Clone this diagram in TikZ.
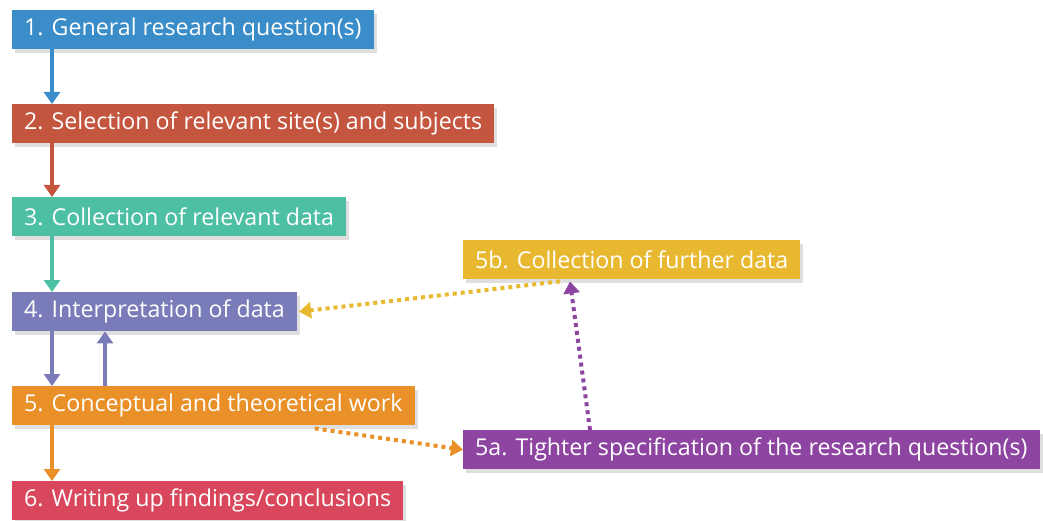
\documentclass[tikz,border=0pt]{standalone}
\usepackage{fontspec}
\setmainfont{Open Sans}
\usetikzlibrary{arrows.meta,shadows}

\definecolor{cblue}{HTML}{3A8DC8}
\definecolor{cbrick}{HTML}{C4553F}
\definecolor{cteal}{HTML}{4DBFA2}
\definecolor{cslate}{HTML}{7A7CB9}
\definecolor{corange}{HTML}{E99128}
\definecolor{crose}{HTML}{D9475C}
\definecolor{cgold}{HTML}{E8B930}
\definecolor{cplum}{HTML}{8E45A2}

\tikzset{
  stagebox/.style={anchor=north west,inner xsep=12pt,inner ysep=0pt,
    minimum height=39pt,text=white,
    font=\fontsize{23.2}{25}\selectfont,
    drop shadow={shadow xshift=3pt,shadow yshift=-4pt,opacity=0.25}},
  flow/.style={line width=4pt,-{Triangle[width=16pt,length=12pt]}},
  loose/.style={line width=4pt,dash pattern=on 4pt off 4pt,
    -{Triangle[width=16pt,length=12pt]}}
}

\begin{document}
\begin{tikzpicture}[x=1pt,y=-1pt]
    \useasboundingbox (0,0) rectangle (1043,521);
    % etapas principales, columna izquierda
    \node[stagebox,fill=cblue] (quest) at (12,10) {1. General research question(s)};
    \node[stagebox,fill=cbrick] (site) at (12,104) {2. Selection of relevant site(s) and subjects};
    \node[stagebox,fill=cteal] (coll) at (12,197) {3. Collection of relevant data};
    \node[stagebox,fill=cslate] (interp) at (12,292) {4. Interpretation of data};
    \node[stagebox,fill=corange] (theory) at (12,386) {5. Conceptual and theoretical work};
    \node[stagebox,fill=crose] (write) at (12,481) {6. Writing up findings/conclusions};
    % etapas del bucle, a la derecha
    \node[stagebox,fill=cgold] (further) at (463,240) {5b. Collection of further data};
    \node[stagebox,fill=cplum] (tight) at (463,430) {5a. Tighter specification of the research question(s)};
    % flechas de la columna
    \draw[flow,cblue] ([xshift=40pt]quest.south west) -- ([xshift=40pt]site.north west);
    \draw[flow,cbrick] ([xshift=40pt]site.south west) -- ([xshift=40pt]coll.north west);
    \draw[flow,cteal] ([xshift=40pt]coll.south west) -- ([xshift=40pt]interp.north west);
    \draw[flow,cslate] ([xshift=40pt]interp.south west) -- ([xshift=40pt]theory.north west);
    \draw[flow,cslate] ([xshift=93pt]theory.north west) -- ([xshift=93pt]interp.south west);
    \draw[flow,corange] ([xshift=40pt]theory.south west) -- ([xshift=40pt]write.north west);
    % bucle punteado
    \draw[loose,corange] ([xshift=-100pt,yshift=-3pt]theory.south east) -- (tight.west);
    \draw[loose,cplum] ([xshift=127pt]tight.north west) -- ([xshift=107pt,yshift=-2pt]further.south west);
    \draw[loose,cgold] ([xshift=97pt,yshift=-2pt]further.south west) -- ([xshift=2pt]interp.east);
  \end{tikzpicture}
\end{document}
